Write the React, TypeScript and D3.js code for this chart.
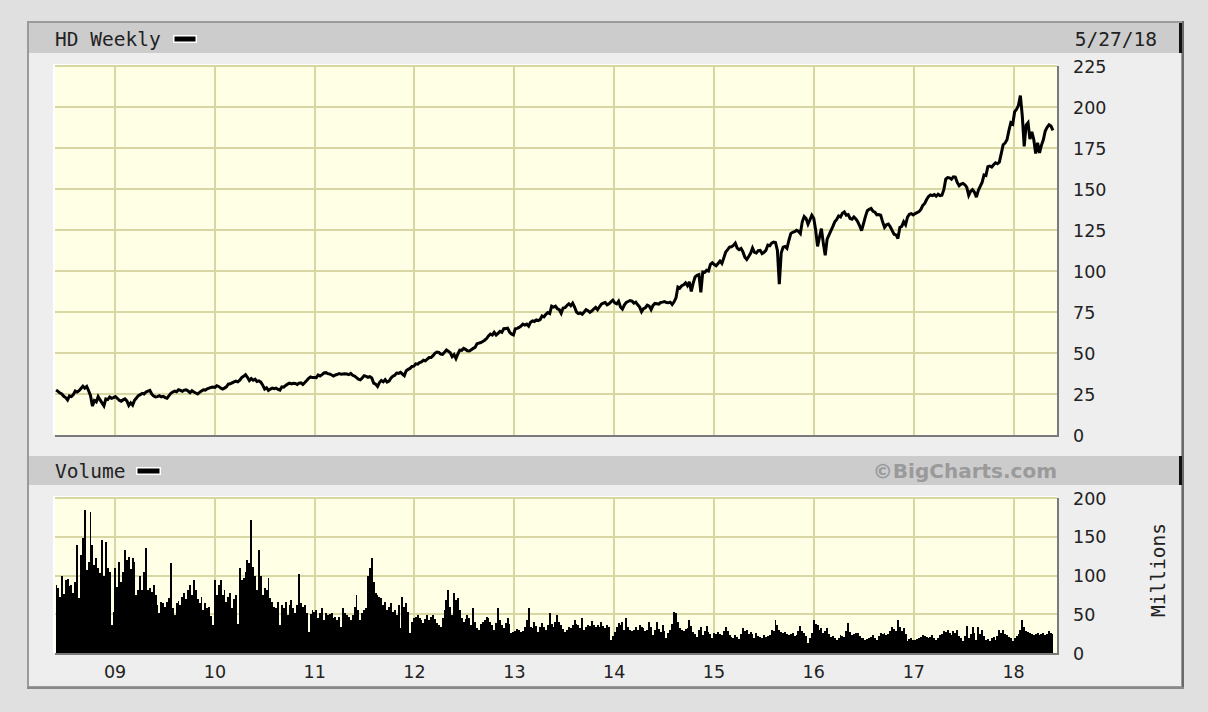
import React from "react";
import * as d3 from "d3";

// ---------- DATA (weekly, Fridays from 2008-05-30 to 2018-05-25) ----------
const price2008 = [27.4, 26.6, 25.6, 25.0, 23.6, 22.8, 21.4, 23.8, 23.4, 24.6, 26.8, 26.2, 27.0, 28.4, 29.8, 28.6, 29.6, 27.0, 24.0, 17.6, 21.0, 20.2, 23.4, 21.4, 19.6, 17.8, 22.0, 21.6, 23.2, 22.4, 22.8];
const price2009 = [23.4, 22.4, 21.2, 20.6, 21.4, 22.0, 20.8, 18.0, 19.6, 18.2, 21.2, 22.6, 24.0, 24.6, 25.4, 25.0, 26.2, 26.8, 27.2, 25.0, 23.8, 23.2, 23.4, 24.0, 23.2, 23.6, 22.8, 22.4, 24.0, 25.4, 26.2, 26.8, 26.4, 27.6, 27.2, 26.6, 27.4, 27.6, 26.8, 25.8, 27.0, 26.2, 25.6, 25.0, 26.0, 26.8, 27.6, 27.4, 28.2, 28.6, 29.0, 29.2];
const price2010 = [29.0, 30.0, 29.6, 28.6, 28.0, 28.6, 29.4, 31.0, 31.2, 31.8, 32.4, 32.8, 32.4, 33.4, 35.0, 35.8, 36.8, 35.2, 33.2, 34.4, 33.4, 34.0, 32.6, 33.0, 32.2, 30.4, 28.0, 28.8, 27.2, 28.0, 28.6, 28.2, 28.6, 27.8, 27.4, 29.4, 29.2, 30.2, 31.0, 31.6, 31.2, 31.6, 31.4, 30.8, 31.6, 31.8, 30.8, 32.0, 33.2, 34.6, 35.4, 35.0, 35.1];
const price2011 = [35.0, 36.6, 36.0, 36.8, 37.8, 38.0, 37.4, 37.2, 36.6, 36.0, 36.6, 37.0, 37.4, 37.0, 37.2, 37.4, 37.2, 36.8, 37.6, 36.4, 36.0, 35.0, 34.0, 33.6, 34.8, 36.2, 35.8, 35.2, 35.6, 34.8, 31.6, 31.0, 29.6, 32.0, 33.2, 32.4, 33.8, 32.2, 32.8, 34.6, 35.8, 36.4, 37.8, 37.6, 38.2, 37.2, 36.2, 39.2, 40.0, 40.6, 41.8, 42.0];
const price2012 = [43.4, 43.2, 44.2, 44.6, 45.6, 45.2, 46.2, 47.2, 47.2, 48.4, 49.8, 50.6, 50.4, 49.4, 49.2, 50.4, 51.8, 51.0, 50.2, 47.8, 49.0, 46.6, 49.4, 51.8, 51.6, 52.8, 52.2, 51.4, 51.2, 52.0, 52.8, 53.4, 55.6, 56.0, 56.4, 57.0, 57.8, 58.8, 60.4, 61.6, 61.0, 62.6, 61.0, 62.0, 63.2, 62.6, 64.8, 65.0, 65.2, 62.8, 61.6, 61.0];
const price2013 = [64.8, 65.0, 65.6, 66.4, 67.6, 67.0, 67.6, 66.4, 68.8, 69.6, 69.2, 70.2, 69.8, 70.4, 72.6, 72.0, 73.6, 74.6, 74.0, 78.6, 78.0, 78.6, 77.0, 76.4, 74.2, 77.4, 77.6, 79.0, 80.0, 78.8, 80.4, 78.0, 75.0, 74.0, 74.4, 73.6, 75.0, 76.4, 75.8, 74.8, 75.6, 76.8, 77.8, 76.4, 78.2, 79.8, 80.4, 80.8, 79.4, 80.0, 81.2, 82.2];
const price2014 = [80.6, 80.0, 81.6, 78.0, 76.8, 79.2, 80.8, 81.4, 82.0, 81.6, 80.4, 81.0, 79.4, 78.0, 75.2, 77.0, 77.6, 79.2, 78.6, 76.4, 79.0, 80.2, 80.0, 79.8, 80.8, 81.0, 81.4, 80.8, 80.6, 81.0, 79.6, 81.2, 83.6, 90.2, 89.6, 91.0, 91.6, 92.8, 91.0, 93.4, 87.6, 92.6, 96.4, 97.4, 97.8, 87.0, 99.4, 99.2, 100.4, 100.0, 104.0, 105.0];
const price2015 = [104.0, 103.2, 104.6, 106.0, 104.6, 108.0, 111.6, 113.0, 114.6, 114.8, 115.6, 117.0, 114.0, 113.0, 113.8, 111.6, 108.4, 107.0, 108.8, 110.8, 114.0, 111.4, 111.0, 112.4, 112.6, 110.6, 111.4, 112.6, 115.8, 115.4, 117.0, 117.6, 117.4, 112.6, 92.0, 111.0, 114.6, 115.0, 113.8, 118.6, 122.8, 123.6, 124.0, 124.8, 124.2, 122.8, 130.0, 133.2, 132.0, 128.6, 131.2, 134.0];
const price2016 = [132.2, 125.0, 115.0, 120.6, 125.8, 117.0, 109.6, 119.4, 122.0, 124.6, 127.2, 130.0, 131.4, 133.6, 133.0, 135.2, 136.0, 134.0, 134.4, 132.0, 131.6, 133.0, 131.8, 130.0, 127.6, 124.6, 128.8, 133.2, 136.8, 137.6, 138.2, 136.4, 135.8, 134.2, 134.4, 134.0, 130.0, 126.6, 128.2, 128.6, 127.0, 124.6, 122.4, 122.0, 119.8, 126.6, 127.2, 130.0, 128.2, 132.8, 134.6, 135.0, 134.2];
const price2017 = [135.0, 135.6, 136.2, 137.6, 140.0, 141.2, 143.6, 145.4, 146.4, 146.0, 146.6, 145.6, 146.8, 146.0, 146.2, 149.6, 156.0, 157.0, 156.8, 156.0, 157.4, 157.2, 154.0, 152.0, 153.0, 153.4, 152.6, 151.0, 146.2, 148.6, 149.6, 148.0, 145.0, 149.0, 151.6, 154.0, 158.6, 158.2, 163.6, 164.0, 163.4, 164.8, 166.0, 165.4, 166.4, 171.6, 177.0, 178.0, 180.0, 185.6, 190.4, 189.6];
const price2018 = [197.0, 198.6, 201.0, 207.0, 194.6, 176.0, 189.0, 190.4, 180.4, 184.8, 180.2, 171.6, 178.2, 172.0, 176.6, 180.0, 185.4, 187.6, 189.2, 188.4, 185.8];

// weekly volume, millions of shares
const vol2008 = [88, 84, 72, 100, 76, 94, 96, 86, 88, 77, 92, 140, 71, 126, 148, 184, 107, 117, 182, 140, 113, 122, 110, 103, 146, 100, 143, 110, 104, 36, 53];
const vol2009 = [110, 85, 117, 92, 104, 133, 120, 124, 108, 122, 117, 75, 81, 100, 81, 104, 135, 81, 84, 79, 88, 75, 62, 51, 66, 64, 60, 66, 71, 116, 58, 49, 64, 67, 62, 72, 77, 70, 81, 88, 75, 94, 81, 70, 64, 72, 55, 64, 58, 60, 48, 36];
const vol2010 = [94, 75, 88, 94, 75, 81, 66, 72, 77, 58, 70, 75, 38, 110, 94, 97, 105, 120, 116, 172, 111, 100, 81, 133, 100, 75, 84, 81, 97, 71, 66, 60, 58, 66, 36, 62, 58, 66, 49, 62, 69, 58, 51, 62, 102, 64, 60, 62, 51, 27, 50, 55, 53];
const vol2011 = [55, 45, 52, 58, 42, 51, 49, 50, 51, 45, 47, 42, 46, 34, 58, 52, 49, 47, 42, 49, 60, 75, 55, 42, 51, 55, 58, 100, 110, 122, 92, 77, 75, 72, 71, 62, 66, 55, 60, 64, 53, 56, 49, 62, 32, 72, 60, 64, 53, 26, 40, 45];
const vol2012 = [47, 49, 45, 42, 39, 44, 49, 43, 46, 49, 44, 39, 36, 34, 45, 55, 68, 81, 60, 49, 77, 68, 71, 55, 45, 40, 44, 49, 45, 36, 58, 40, 32, 30, 38, 40, 43, 47, 45, 40, 36, 30, 39, 58, 42, 36, 32, 39, 45, 38, 26, 27];
const vol2013 = [28, 31, 30, 27, 29, 33, 42, 58, 34, 32, 40, 35, 27, 33, 39, 33, 30, 36, 51, 38, 34, 40, 49, 40, 36, 31, 27, 30, 33, 32, 36, 43, 38, 36, 32, 45, 30, 33, 36, 35, 41, 36, 34, 36, 33, 40, 35, 32, 36, 34, 17, 22];
const vol2014 = [27, 33, 39, 36, 40, 30, 45, 34, 30, 28, 30, 33, 30, 36, 34, 32, 29, 30, 40, 33, 23, 30, 40, 31, 27, 36, 28, 19, 26, 30, 38, 53, 51, 40, 32, 30, 28, 31, 32, 43, 35, 27, 24, 21, 30, 34, 23, 28, 35, 27, 24, 20];
const vol2015 = [26, 24, 27, 25, 23, 28, 34, 28, 23, 21, 19, 23, 21, 18, 24, 32, 28, 30, 25, 27, 24, 19, 26, 22, 21, 20, 23, 21, 22, 23, 30, 28, 43, 36, 30, 27, 26, 27, 24, 23, 25, 26, 22, 23, 28, 35, 29, 26, 22, 13, 20, 26];
const vol2016 = [43, 38, 36, 30, 32, 26, 28, 32, 25, 21, 22, 19, 17, 20, 23, 22, 21, 28, 39, 27, 23, 24, 26, 26, 22, 19, 20, 17, 18, 19, 21, 23, 20, 17, 22, 26, 24, 26, 23, 25, 28, 34, 31, 29, 43, 33, 29, 32, 24, 15, 18, 19, 17];
const vol2017 = [17, 18, 19, 21, 23, 22, 21, 20, 21, 23, 20, 17, 20, 23, 25, 29, 27, 30, 26, 23, 29, 26, 30, 22, 19, 15, 22, 35, 19, 24, 34, 26, 17, 34, 25, 30, 22, 17, 18, 15, 20, 21, 17, 22, 30, 26, 30, 25, 23, 21, 19, 16];
const vol2018 = [19, 22, 24, 30, 43, 33, 29, 27, 26, 25, 23, 24, 26, 23, 25, 26, 23, 24, 29, 26, 25];

const priceTicks = [0, 25, 50, 75, 100, 125, 150, 175, 200, 225];
const volumeTicks = [0, 50, 100, 150, 200];
const yearLabels = ["09", "10", "11", "12", "13", "14", "15", "16", "17", "18"];

const TITLE = "HD Weekly";
const DATE_LABEL = "5/27/18";
const VOLUME_TITLE = "Volume";
const COPYRIGHT = "\u00A9BigCharts.com";
const UNITS = "Millions";

// ---------- STYLE ----------
const MONO = "'DejaVu Sans Mono', monospace";
const SANS = "'DejaVu Sans', sans-serif";
const TEXT = "#222";
const PLOT_BG = "#ffffe6";
const GRID = "#d8d6a2";

export default function App() {
  const prices = [
    ...price2008, ...price2009, ...price2010, ...price2011, ...price2012, ...price2013,
    ...price2014, ...price2015, ...price2016, ...price2017, ...price2018,
  ];
  const volumes = [
    ...vol2008, ...vol2009, ...vol2010, ...vol2011, ...vol2012, ...vol2013,
    ...vol2014, ...vol2015, ...vol2016, ...vol2017, ...vol2018,
  ];
  const dates = d3.timeFriday.range(new Date(2008, 4, 30), new Date(2018, 4, 26));
  const n = Math.min(dates.length, prices.length, volumes.length);
  const data = d3.range(n).map((i) => ({ date: dates[i], p: prices[i], v: volumes[i] }));

  const L = 55, R = 1057;
  const pTop = 66, pBot = 435;
  const vTop = 498, vBot = 653;

  const x = d3.scaleTime().domain([new Date(2008, 4, 26), new Date(2018, 5, 9)]).range([L, R]);
  const yP = d3.scaleLinear().domain([0, 225]).range([pBot, pTop]);
  const yV = d3.scaleLinear().domain([0, 200]).range([vBot, vTop]);

  const years = d3.timeYear.range(new Date(2009, 0, 1), new Date(2018, 1, 1));

  const line = d3
    .line<{ date: Date; p: number }>()
    .x((d) => x(d.date))
    .y((d) => yP(d.p));
  const area = d3
    .area<{ date: Date; v: number }>()
    .x((d) => x(d.date))
    .y0(yV(0))
    .y1((d) => yV(d.v))
    .curve(d3.curveStep);

  const gridV = (top: number, bot: number, key: string) =>
    years.map((yr, i) => (
      <line key={key + i} x1={Math.round(x(yr))} x2={Math.round(x(yr))} y1={top} y2={bot} stroke={GRID} strokeWidth={2} />
    ));

  return (
    <div style={{ position: "absolute", left: 0, top: 0, width: 1208, height: 712, background: "#e0e0e0" }}>
      <svg width={1208} height={712} style={{ display: "block" }}>
        <defs>
          <clipPath id="clipP">
            <rect x={L} y={pTop} width={R - L} height={pBot - pTop} />
          </clipPath>
          <clipPath id="clipV">
            <rect x={L} y={vTop} width={R - L} height={vBot - vTop} />
          </clipPath>
        </defs>

        {/* frame */}
        <rect x={28} y={22} width={1154} height={665} fill="#eeeeee" stroke="#9a9a9a" strokeWidth={2} />
        <line x1={1183} x2={1183} y1={21} y2={688} stroke="#6a6a6a" strokeWidth={2} />
        <line x1={27} x2={1184} y1={688} y2={688} stroke="#8a8a8a" strokeWidth={2} />

        {/* header bars */}
        <rect x={29} y={23} width={1151} height={30} fill="#cccccc" />
        <rect x={1179} y={23} width={3} height={30} fill="#111" />
        <rect x={29} y={456} width={1151} height={29} fill="#cccccc" />
        <rect x={1179} y={456} width={3} height={29} fill="#111" />

        <text x={55} y={45.5} fontFamily={MONO} fontSize={19.5} fill={TEXT}>{TITLE}</text>
        <rect x={173} y={35} width={24} height={8} fill="#ffffff" />
        <rect x={174.5} y={36.5} width={21} height={5} fill="#000" />
        <text x={1157} y={45.5} fontFamily={MONO} fontSize={19.5} fill={TEXT} textAnchor="end">{DATE_LABEL}</text>

        <text x={55} y={478} fontFamily={MONO} fontSize={19.5} fill={TEXT}>{VOLUME_TITLE}</text>
        <rect x={136} y={467} width={25} height={8} fill="#ffffff" />
        <rect x={137.5} y={468.5} width={22} height={5} fill="#000" />
        <text x={1057} y={477.5} fontFamily={SANS} fontWeight="bold" fontSize={20} fill="#9a9a9a" textAnchor="end">{COPYRIGHT}</text>

        {/* price panel */}
        <rect x={L - 2} y={pTop - 2} width={R - L + 2} height={pBot - pTop + 2} fill="#ffffff" />
        <rect x={L} y={pTop} width={R - L} height={pBot - pTop} fill={PLOT_BG} />
        {priceTicks.slice(1).map((t) => (
          <line key={"pg" + t} x1={L} x2={R} y1={Math.round(yP(t))} y2={Math.round(yP(t))} stroke={GRID} strokeWidth={2} />
        ))}
        {gridV(pTop, pBot, "pv")}
        <path d={line(data) || ""} fill="none" stroke="#000" strokeWidth={3} strokeLinejoin="miter" strokeMiterlimit={3} clipPath="url(#clipP)" />
        <line x1={R + 1} x2={R + 1} y1={pTop} y2={pBot + 2} stroke="#7a7a7a" strokeWidth={2} />
        <line x1={L} x2={R + 2} y1={pBot + 1} y2={pBot + 1} stroke="#7a7a7a" strokeWidth={2} />
        {priceTicks.map((t) => (
          <text key={"pt" + t} x={1073} y={yP(t) + 6.5} fontFamily={SANS} fontSize={17.5} fill={TEXT}>{t}</text>
        ))}

        {/* volume panel */}
        <rect x={L - 2} y={vTop - 2} width={R - L + 2} height={vBot - vTop + 2} fill="#ffffff" />
        <rect x={L} y={vTop} width={R - L} height={vBot - vTop} fill={PLOT_BG} />
        {volumeTicks.slice(1).map((t) => (
          <line key={"vg" + t} x1={L} x2={R} y1={Math.round(yV(t))} y2={Math.round(yV(t))} stroke={GRID} strokeWidth={2} />
        ))}
        {gridV(vTop, vBot, "vv")}
        <path d={area(data) || ""} fill="#000" clipPath="url(#clipV)" shapeRendering="crispEdges" />
        <line x1={R + 1} x2={R + 1} y1={vTop} y2={vBot + 2} stroke="#7a7a7a" strokeWidth={2} />
        <line x1={L} x2={R + 2} y1={vBot + 1} y2={vBot + 1} stroke="#7a7a7a" strokeWidth={2} />
        {volumeTicks.map((t) => (
          <text key={"vt" + t} x={1073} y={yV(t) + 6.5} fontFamily={SANS} fontSize={17.5} fill={TEXT}>{t}</text>
        ))}
        <text transform="translate(1165,570) rotate(-90)" fontFamily={MONO} fontSize={19.5} fill={TEXT} textAnchor="middle">{UNITS}</text>

        {/* x axis labels */}
        {years.map((yr, i) => (
          <text key={"xl" + i} x={x(yr)} y={677.5} fontFamily={SANS} fontSize={17.5} fill={TEXT} textAnchor="middle">{yearLabels[i]}</text>
        ))}
      </svg>
    </div>
  );
}
